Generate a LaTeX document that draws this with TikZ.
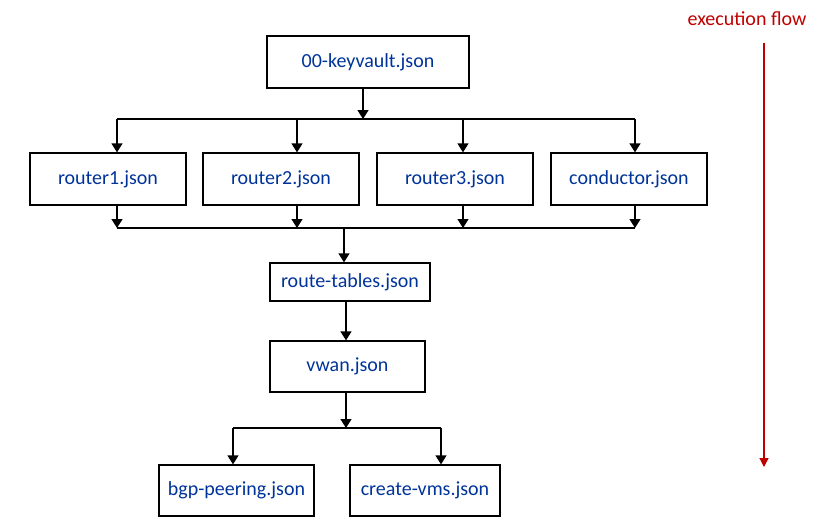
\documentclass[tikz,border=0pt]{standalone}
\usepackage{fontspec}
\setmainfont{Carlito}
\usetikzlibrary{arrows.meta}
\definecolor{jsonblue}{RGB}{0,51,153}
\definecolor{flowred}{RGB}{192,0,0}

\begin{document}
\begin{tikzpicture}[x=1pt,y=-1pt,
  file/.style={draw, line width=1.3pt, text=jsonblue, font=\fontsize{20}{24}\selectfont, inner sep=0pt, minimum height=52pt},
  arr/.style={-{Triangle[width=11pt,length=9pt]}, line width=1.3pt},
  bus/.style={line width=1.3pt}]
\useasboundingbox (0,0) rectangle (820,520);

% files
\node[file, minimum width=202pt] (keyvault) at (368,62) {00-keyvault.json};
\node[file, minimum width=156pt] (router1) at (108,179) {router1.json};
\node[file, minimum width=156pt] (router2) at (281,179) {router2.json};
\node[file, minimum width=156pt] (router3) at (455,179) {router3.json};
\node[file, minimum width=156pt] (conductor) at (629,179) {conductor.json};
\node[file, minimum width=160pt, minimum height=38pt] (routes) at (350,282) {route-tables.json};
\node[file, minimum width=155pt, minimum height=51pt] (vwan) at (347.5,366.5) {vwan.json};
\node[file, minimum width=155pt, minimum height=51pt] (bgp) at (236.5,490.5) {bgp-peering.json};
\node[file, minimum width=150pt, minimum height=51pt] (vms) at (425,490.5) {create-vms.json};

% keyvault to routers
\coordinate (split) at (363,119);
\draw[arr] (split |- keyvault.south) -- (split);
\foreach \n/\x in {router1/117, router2/297, router3/463, conductor/635}{
  \coordinate (top\n) at (\x,119);
  \draw[arr] (top\n) -- (top\n |- \n.north);
}
\draw[bus] (toprouter1) -- (topconductor);

% routers to route tables
\coordinate (join) at (344,228);
\foreach \n in {router1, router2, router3, conductor}
  \draw[arr] (top\n |- \n.south) -- (top\n |- join);
\draw[bus] (toprouter1 |- join) -- (topconductor |- join);
\draw[arr] (join) -- (join |- routes.north);

% route tables to vwan
\coordinate (mid) at (346,0);
\draw[arr] (mid |- routes.south) -- (mid |- vwan.north);

% vwan to vms
\coordinate (fork) at (346,428);
\coordinate (leftend) at (233,428);
\coordinate (rightend) at (441,428);
\draw[arr] (fork |- vwan.south) -- (fork);
\draw[bus] (leftend) -- (rightend);
\draw[arr] (leftend) -- (leftend |- bgp.north);
\draw[arr] (rightend) -- (rightend |- vms.north);

% execution flow
\node[text=flowred, font=\fontsize{20}{24}\selectfont] (flow) at (747,19) {execution flow};
\coordinate (flowtop) at (764,43);
\coordinate (flowend) at (764,467);
\draw[-{Triangle[width=9pt,length=9pt]}, flowred, line width=1.2pt] (flowtop) -- (flowend);
\end{tikzpicture}
\end{document}
